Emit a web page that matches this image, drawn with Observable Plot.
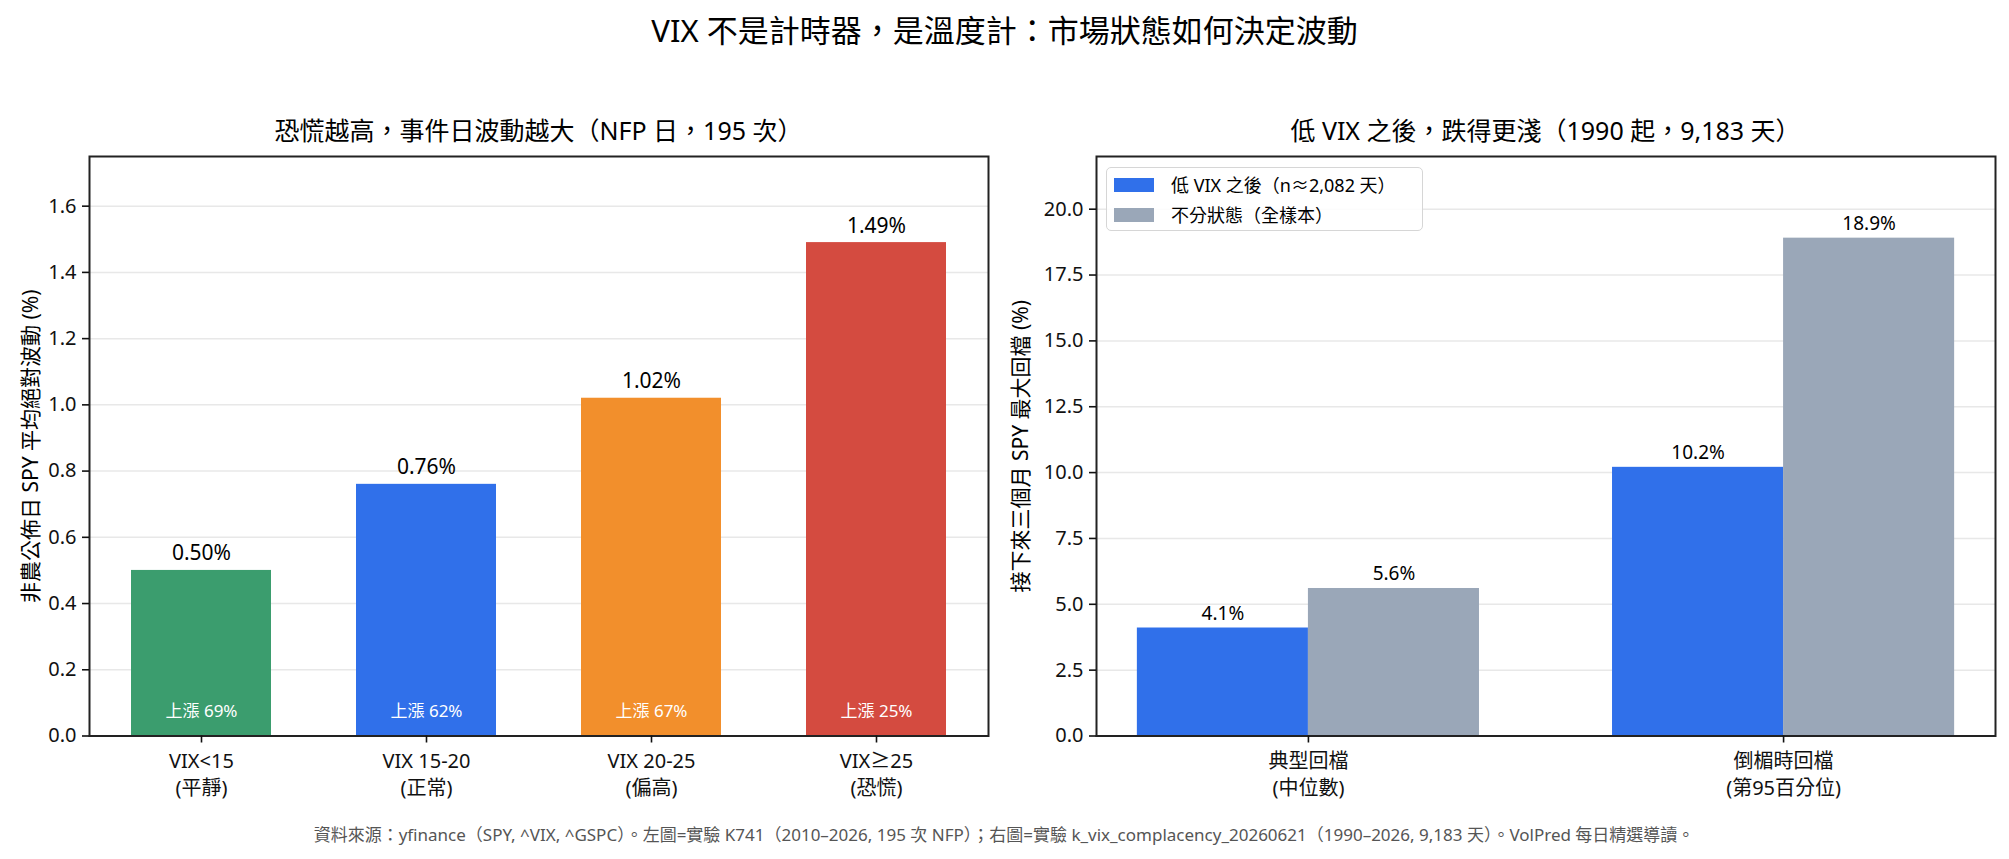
<!DOCTYPE html>
<html><head><meta charset="utf-8">
<script src="https://cdn.jsdelivr.net/npm/d3@7"></script>
<script src="https://cdn.jsdelivr.net/npm/@observablehq/plot@0.6"></script>
<style>
html,body{margin:0;padding:0;background:#fff;}
#root{position:relative;width:2009px;height:859px;overflow:hidden;font-family:"Noto Sans","Noto Sans CJK TC",sans-serif;color:#000;}
.abs{position:absolute;white-space:nowrap;line-height:1;}
.ctr{transform:translate(-50%,-50%);}
#root svg{position:absolute;top:0;overflow:visible;}
</style></head><body><div id="root"></div>
<script>
// ---------- data ----------
const mainTitle = "VIX 不是計時器，是溫度計：市場狀態如何決定波動";
const leftTitle = "恐慌越高，事件日波動越大（NFP 日，195 次）";
const rightTitle = "低 VIX 之後，跌得更淺（1990 起，9,183 天）";
const caption = "資料來源：yfinance（SPY, ^VIX, ^GSPC）。左圖=實驗 K741（2010–2026, 195 次 NFP）；右圖=實驗 k_vix_complacency_20260621（1990–2026, 9,183 天）。VolPred 每日精選導讀。";

const regimeCats = ["VIX<15", "VIX 15-20", "VIX 20-25", "VIX≥25"];
const regimeNames = ["平靜", "正常", "偏高", "恐慌"];
const nfpAbsMove = [0.50, 0.76, 1.02, 1.49];
const nfpUpRate = [69, 62, 67, 25];
const leftYTicks = [0, 0.2, 0.4, 0.6, 0.8, 1.0, 1.2, 1.4, 1.6];
const leftYLabel = "非農公佈日 SPY 平均絕對波動 (%)";

const ddGroups = ["典型回檔", "倒楣時回檔"];
const ddGroupSub = ["中位數", "第95百分位"];
const seriesNames = ["低 VIX 之後（n≈2,082 天）", "不分狀態（全樣本）"];
const lowVixDD = [4.1, 10.2];
const allDaysDD = [5.6, 18.9];
const rightYTicks = [0, 2.5, 5, 7.5, 10, 12.5, 15, 17.5, 20];
const rightYLabel = "接下來三個月 SPY 最大回檔 (%)";

// ---------- styles ----------
const regimeColors = ["#3b9d6e", "#3070ea", "#f28f2c", "#d44b40"];
const seriesColors = ["#3070ea", "#9aa7b8"];
const FONT = '"Noto Sans","Noto Sans CJK TC",sans-serif';
const root = document.getElementById("root");

function addText(txt, x, y, size, color) {
  const d = document.createElement("div");
  d.className = "abs ctr";
  d.textContent = txt;
  d.style.left = x + "px"; d.style.top = y + "px";
  d.style.fontSize = size + "px";
  if (color) d.style.color = color;
  root.appendChild(d);
}

addText(mainTitle, 1004.5, 30, 31);
addText(leftTitle, 538.5, 130, 25);
addText(rightTitle, 1545.5, 130, 25);
addText(caption, 1004, 834, 17, "#555");

// ---------- left chart ----------
const leftData = regimeCats.map((c, i) => ({cat: c, name: regimeNames[i], v: nfpAbsMove[i], up: nfpUpRate[i]}));
const left = Plot.plot({
  width: 1004, height: 859,
  marginTop: 156, marginBottom: 123.5, marginLeft: 89, marginRight: 16,
  style: {fontFamily: FONT, fontSize: "20px", color: "#000", background: "transparent"},
  x: {type: "band", domain: regimeCats, paddingInner: 0.38, paddingOuter: 0.18, align: 0.5},
  y: {domain: [0, 1.75]},
  color: {domain: regimeCats, range: regimeColors},
  marks: [
    Plot.gridY(leftYTicks, {stroke: "#e8e8e8", strokeOpacity: 1, strokeWidth: 1.5}),
    Plot.barY(leftData, {x: "cat", y: "v", fill: "cat"}),
    Plot.text(leftData, {x: "cat", y: "v", text: d => d.v.toFixed(2) + "%", lineAnchor: "bottom", dy: -10, fontSize: 21, fill: "#000"}),
    Plot.text(leftData, {x: "cat", frameAnchor: "bottom", text: d => `上漲 ${d.up}%`, lineAnchor: "bottom", dy: -19, fontSize: 17, fill: "#fff"}),
    Plot.frame({stroke: "#222", strokeWidth: 2}),
    Plot.axisY(leftYTicks, {tickSize: 7, tickPadding: 6, tickFormat: d3.format(".1f"), fontSize: 20, color: "#111", strokeWidth: 1.6, label: null}),
    Plot.axisX(regimeCats, {tickSize: 7, tickPadding: 6, tickFormat: (c) => c + "\n(" + regimeNames[regimeCats.indexOf(c)] + ")", fontSize: 20, lineHeight: 1.35, color: "#111", strokeWidth: 1.6, label: null}),
    Plot.text([leftYLabel], {frameAnchor: "left", text: d => d, rotate: -90, dx: -66, textAnchor: "middle", lineAnchor: "top", fontSize: 21, fill: "#000"})
  ]
});
left.style.left = "0px";
root.appendChild(left);

// ---------- right chart ----------
const barW = 0.36;
const rightData = [];
ddGroups.forEach((g, i) => {
  [lowVixDD, allDaysDD].forEach((arr, s) => {
    rightData.push({i, series: seriesNames[s], v: arr[i], x1: i - barW + s * barW, x2: i + s * barW});
  });
});
const right = Plot.plot({
  width: 1005, height: 859,
  marginTop: 156, marginBottom: 123.5, marginLeft: 92, marginRight: 14,
  style: {fontFamily: FONT, fontSize: "20px", color: "#000", background: "transparent"},
  x: {type: "linear", domain: [-0.446, 1.446]},
  y: {domain: [0, 22]},
  color: {domain: seriesNames, range: seriesColors},
  marks: [
    Plot.gridY(rightYTicks, {stroke: "#e8e8e8", strokeOpacity: 1, strokeWidth: 1.5}),
    Plot.rect(rightData, {x1: "x1", x2: "x2", y1: 0, y2: "v", fill: "series"}),
    Plot.text(rightData, {x: d => (d.x1 + d.x2) / 2, y: "v", text: d => d.v.toFixed(1) + "%", lineAnchor: "bottom", dy: -8, fontSize: 19, fill: "#000"}),
    Plot.frame({stroke: "#222", strokeWidth: 2}),
    Plot.axisY(rightYTicks, {tickSize: 7, tickPadding: 6, tickFormat: d3.format(".1f"), fontSize: 20, color: "#111", strokeWidth: 1.6, label: null}),
    Plot.axisX([0, 1], {tickSize: 7, tickPadding: 6, tickFormat: i => ddGroups[i] + "\n(" + ddGroupSub[i] + ")", fontSize: 20, lineHeight: 1.35, color: "#111", strokeWidth: 1.6, label: null}),
    Plot.text([rightYLabel], {frameAnchor: "left", text: d => d, rotate: -90, dx: -83, textAnchor: "middle", lineAnchor: "top", fontSize: 21, fill: "#000"})
  ]
});
right.style.left = "1004px";
root.appendChild(right);

// ---------- legend (right chart) ----------
const lg = document.createElement("div");
lg.className = "abs";
Object.assign(lg.style, {left: "1106px", top: "167px", width: "317px", height: "64px", border: "1.5px solid #d6d6d6", borderRadius: "5px", background: "rgba(255,255,255,0.85)", boxSizing: "border-box"});
root.appendChild(lg);
seriesNames.forEach((s, k) => {
  const sw = document.createElement("div");
  sw.className = "abs";
  Object.assign(sw.style, {left: "1114px", top: (178 + k * 30) + "px", width: "40px", height: "13.5px", background: seriesColors[k]});
  root.appendChild(sw);
  const t = document.createElement("div");
  t.className = "abs";
  t.textContent = s;
  Object.assign(t.style, {left: "1171px", top: (185 + k * 30) + "px", fontSize: "18px", transform: "translateY(-50%)"});
  root.appendChild(t);
});
</script></body></html>
